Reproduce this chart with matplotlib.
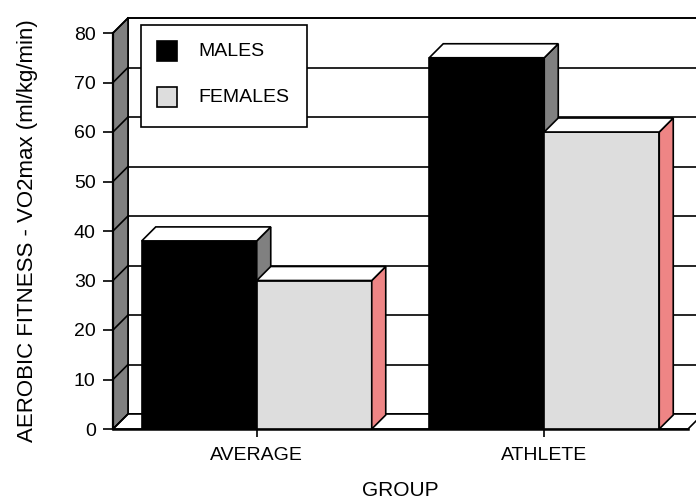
import matplotlib
matplotlib.use("Agg")
import matplotlib.pyplot as plt
from matplotlib.patches import Polygon, Rectangle

plt.rcParams['font.family'] = ['Liberation Sans', 'DejaVu Sans']

categories = ["AVERAGE", "ATHLETE"]
series_names = ["MALES", "FEMALES"]
males = [38, 75]
females = [30, 60]
yticks = [0, 10, 20, 30, 40, 50, 60, 70, 80]

W, H = 696, 499
fig = plt.figure(figsize=(W / 100, H / 100), dpi=100)
L, R, B, T = 113, 688, 429, 33
ax = fig.add_axes([L / W, (H - B) / H, (R - L) / W, (B - T) / H])
ax.set_xlim(0, 2)
ax.set_ylim(0, 80)
for s in ax.spines.values():
    s.set_visible(False)

# depth offsets in data units
px_x = 2 / (R - L)
px_y = 80 / (B - T)
wdx, wdy = 15 * px_x, 15 * px_y   # wall depth
bdx, bdy = 14 * px_x, 14 * px_y   # bar depth
lw = 1.2
ymax = yticks[-1]

# back wall
ax.add_patch(Polygon([(wdx, wdy), (2 + wdx, wdy), (2 + wdx, ymax + wdy), (wdx, ymax + wdy)],
                     closed=True, facecolor='white', edgecolor='black', lw=lw,
                     clip_on=False, zorder=1))
for t in yticks:
    ax.plot([wdx, 2 + wdx], [t + wdy, t + wdy], color='black', lw=lw, clip_on=False, zorder=1.5)
# left wall
ax.add_patch(Polygon([(0, 0), (wdx, wdy), (wdx, ymax + wdy), (0, ymax)],
                     closed=True, facecolor='#808080', edgecolor='black', lw=lw,
                     clip_on=False, zorder=2))
for t in yticks:
    ax.plot([0, wdx], [t, t + wdy], color='black', lw=lw, clip_on=False, zorder=2.5)
ax.plot([0, 0], [0, ymax], color='black', lw=1.6, clip_on=False, zorder=2.6)
# floor
ax.add_patch(Polygon([(0, 0), (2, 0), (2 + wdx, wdy), (wdx, wdy)],
                     closed=True, facecolor='white', edgecolor='black', lw=lw,
                     clip_on=False, zorder=2))
ax.plot([0, 2], [0, 0], color='black', lw=1.8, clip_on=False, zorder=2.6)

# bars
width = 0.4
front_cols = ['black', '#DDDDDD']
side_cols = ['#808080', '#EE8585']
z = 3
for i, cat in enumerate(categories):
    for j, vals in enumerate([males, females]):
        x0 = i + 0.5 - width + j * width
        v = vals[i]
        ax.bar(x0, v, width=width, align='edge', color=front_cols[j],
               edgecolor='black', lw=lw, zorder=z)
        x1 = x0 + width
        ax.add_patch(Polygon([(x1, 0), (x1 + bdx, bdy), (x1 + bdx, v + bdy), (x1, v)],
                             closed=True, facecolor=side_cols[j], edgecolor='black',
                             lw=lw, zorder=z, clip_on=False))
        ax.add_patch(Polygon([(x0, v), (x1, v), (x1 + bdx, v + bdy), (x0 + bdx, v + bdy)],
                             closed=True, facecolor='white', edgecolor='black',
                             lw=lw, zorder=z, clip_on=False))
        z += 0.1

ax.set_yticks(yticks)
ax.set_yticklabels([str(t) for t in yticks], fontsize=14)
ax.set_xticks([0.5, 1.5])
ax.set_xticklabels(categories, fontsize=14)
ax.tick_params(axis='y', direction='out', length=7.5, width=1.2, pad=5)
ax.tick_params(axis='x', direction='out', length=6, width=1.2, pad=7)
ax.set_xlabel("GROUP", fontsize=15, labelpad=12)
ax.set_ylabel("AEROBIC FITNESS - VO2max (ml/kg/min)", fontsize=16, labelpad=26)

# legend (manual)
def fx(x):
    return x / W

def fy(y):
    return 1 - y / H

fig.patches.append(Rectangle((fx(141), fy(127)), fx(307) - fx(141), fy(25) - fy(127),
                             transform=fig.transFigure, facecolor='white',
                             edgecolor='black', lw=1.2, zorder=10))
for k, (name, col) in enumerate(zip(series_names, front_cols)):
    yc = 51 + k * 46
    fig.patches.append(Rectangle((fx(157), fy(yc + 10)), fx(177) - fx(157), fy(yc - 10) - fy(yc + 10),
                                 transform=fig.transFigure, facecolor=col,
                                 edgecolor='black', lw=1.2, zorder=11))
    fig.text(fx(198), fy(yc), name, fontsize=14, va='center', ha='left', zorder=12)

fig.savefig("out.png", dpi=100)
